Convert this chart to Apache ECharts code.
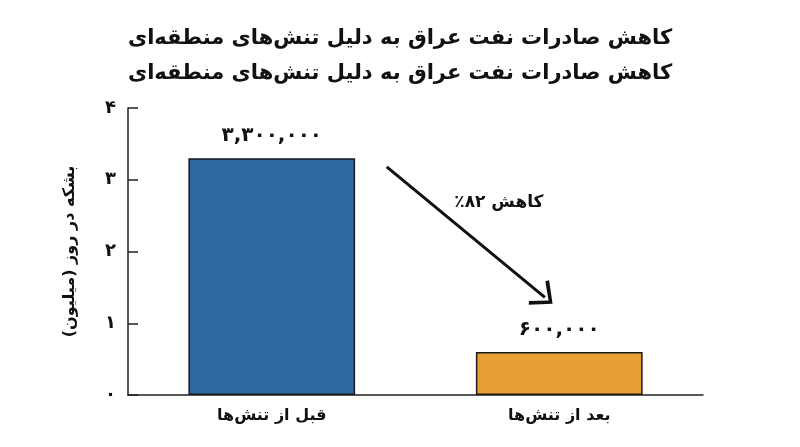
<!DOCTYPE html>
<html>
<head>
<meta charset="utf-8">
<script src="https://cdn.jsdelivr.net/npm/echarts@6/dist/echarts.min.js"></script>
<style>
html,body{margin:0;padding:0;background:#fff;}
#chart{width:800px;height:447px;}
</style>
</head>
<body>
<div id="chart"></div>
<script>
const titleLines = ['کاهش صادرات نفت عراق به دلیل تنش‌های منطقه‌ای', 'کاهش صادرات نفت عراق به دلیل تنش‌های منطقه‌ای'];
const categories = ['قبل از تنش‌ها', 'بعد از تنش‌ها'];
const values = [3.3, 0.6];           // million barrels per day
const barColors = ['#2f69a3', '#e89f33'];
const yTicks = [0, 1, 2, 3, 4];
const yName = 'بشکه در روز (میلیون)';
const arrowFrom = [0.40, 3.18];
const arrowTo = [0.95, 1.36];
const arrowText = 'کاهش ۸۲٪';
const arrowTextAt = [0.79, 2.68];

const FONT = '"DejaVu Sans", "Noto Sans", sans-serif';
const faDigits = '۰۱۲۳۴۵۶۷۸۹';
function rtl(s){ return '\u202B' + s + '\u202C'; }
function toFa(s){ return String(s).replace(/[0-9]/g, d => faDigits[+d]); }
function fmtBarrels(v){
  const n = Math.round(v * 1e6);
  return toFa(n.toString().replace(/\B(?=(\d{3})+(?!\d))/g, ','));
}

const chart = echarts.init(document.getElementById('chart'));
chart.setOption({
  backgroundColor: '#fff',
  animation: false,
  title: {
    text: titleLines.map(rtl).join('\n'),
    left: 'center',
    top: 16,
    textStyle: { fontFamily: FONT, fontSize: 21, fontWeight: 'bold', color: '#111', lineHeight: 35 }
  },
  grid: { left: 128, right: 97, top: 108, bottom: 52 },
  xAxis: [{
    type: 'category',
    data: categories,
    axisLine: { lineStyle: { color: '#222', width: 1.5 } },
    axisTick: { show: false },
    axisLabel: { fontFamily: FONT, fontSize: 16, fontWeight: 'bold', color: '#111', margin: 13,
      formatter: v => rtl(v) }
  }, {
    type: 'value', min: -0.5, max: 1.5, show: false
  }],
  yAxis: {
    type: 'value',
    min: yTicks[0], max: yTicks[yTicks.length - 1], interval: 1,
    name: rtl(yName),
    nameLocation: 'middle',
    nameRotate: 90,
    nameGap: 50,
    nameTextStyle: { fontFamily: FONT, fontSize: 16, fontWeight: 'bold', color: '#111' },
    splitLine: { show: false },
    axisLine: { show: true, onZero: false, lineStyle: { color: '#222', width: 1.5 } },
    axisTick: { show: true, inside: true, length: 10, lineStyle: { color: '#222', width: 1.5 } },
    axisLabel: { fontFamily: FONT, fontSize: 18, fontWeight: 'bold', color: '#111', margin: 12,
      formatter: v => toFa(v) }
  },
  series: [{
    type: 'bar',
    data: values.map((v, i) => ({ value: v, itemStyle: { color: barColors[i] } })),
    barWidth: '58%',
    itemStyle: { borderColor: '#1a1a1a', borderWidth: 1.5 },
    label: {
      show: true, position: 'top', distance: 12,
      fontFamily: FONT, fontSize: 20, fontWeight: 'bold', color: '#111',
      formatter: p => fmtBarrels(p.value)
    }
  }, {
    type: 'scatter',
    xAxisIndex: 1,
    data: [arrowTextAt],
    symbolSize: 1,
    itemStyle: { color: 'rgba(0,0,0,0)', opacity: 1 },
    label: {
      show: true, position: 'inside', formatter: rtl(arrowText),
      fontFamily: FONT, fontSize: 17, fontWeight: 'bold', color: '#111',
      textBorderWidth: 0
    },
    silent: true,
    markLine: {
      silent: true,
      symbol: ['none', 'path://M0,12 L10,0 L20,12 L18,13.5 L10,3.5 L2,13.5 Z'],
      symbolSize: [32, 20],
      label: { show: false },
      lineStyle: { color: '#111', width: 3, type: 'solid' },
      data: [[{ coord: arrowFrom }, { coord: arrowTo }]]
    }
  }]
});
</script>
</body>
</html>
